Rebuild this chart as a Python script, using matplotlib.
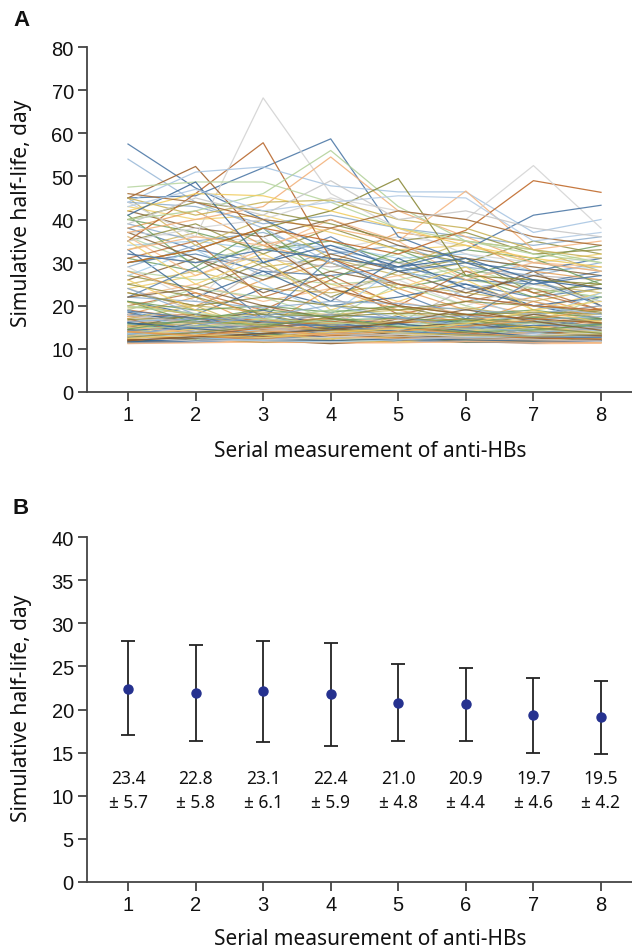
import matplotlib
matplotlib.use("Agg")
import matplotlib.pyplot as plt
import numpy as np

# ---------------- data ----------------
measurements = [1, 2, 3, 4, 5, 6, 7, 8]

# Panel A: individual simulative half-life trajectories (day)
high_subjects = [
    [57.5, 47.3, 40, 33, 28, 30, 25, 27],
    [54, 44, 38, 30, 25, 22, 20, 18],
    [45, 45.5, 52, 58.7, 36, 30, 28, 31],
    [35, 46, 57.8, 31, 25, 22, 20, 19],
    [44, 36, 68.2, 46, 38, 32, 30, 28],
    [45, 52.3, 35, 24, 20, 18, 17, 16],
    [44, 51, 52.2, 47.8, 46.4, 46.4, 37, 40],
    [37, 40, 43, 54.5, 42, 36, 30, 28],
    [40, 42, 46, 56, 43, 35, 33, 30],
    [30, 33, 38, 42, 49.5, 27, 26, 25],
    [33, 36, 34, 38, 35, 46.6, 33, 35],
    [30, 33, 38, 35, 32, 37.5, 49, 46.3],
    [35, 38, 40, 45, 42, 40, 52.5, 38],
    [32, 30, 33, 31, 29, 33, 41, 43.3],
    [47.5, 48.7, 48.7, 44, 38, 35, 32, 30],
    [42, 46, 45.5, 42, 38, 34, 31, 29],
    [41, 48.7, 30, 34, 29, 31, 26, 24],
    [45, 41, 44, 44.5, 40, 38, 33, 31],
    [46, 44, 40, 38, 42, 40, 36, 34],
    [43, 47, 42, 44, 45.5, 45, 35, 37],
    [39, 45, 41, 49, 40, 42, 38, 36],
]
high_colors = ['#4e79a7', '#9dbbd9', '#4e79a7', '#b8682e', '#d3d3d3', '#a0622d',
               '#a9c6e3', '#f2b27c', '#b4d29c', '#8b8a3a', '#f5b783', '#c06a2b',
               '#d5d5d5', '#4e79a7', '#b9d6a3', '#f1ce63', '#3f6b99', '#c9b35a',
               '#a8703a', '#b6cde6', '#c8c8c8']

mid_subjects = [
    [38, 33, 30, 36, 28, 25, 22, 24],
    [36, 30, 34, 28, 32, 26, 24, 22],
    [33, 37, 29, 31, 27, 30, 25, 23],
    [31, 28, 35, 30, 24, 27, 22, 26],
    [29, 34, 27, 33, 30, 24, 26, 21],
    [27, 24, 30, 22, 28, 31, 23, 25],
    [26, 31, 23, 28, 25, 22, 28, 20],
    [24, 27, 32, 25, 21, 26, 19, 23],
    [23, 20, 26, 30, 24, 19, 22, 18],
    [22, 25, 21, 24, 27, 21, 18, 20],
    [21, 18, 24, 20, 22, 25, 20, 17],
    [20, 23, 19, 26, 18, 21, 24, 19],
    [37, 36, 35, 33, 36, 34, 30, 31],
    [34, 35, 33, 34, 31, 32, 28, 29],
    [32, 30, 31, 29, 30, 28, 27, 26],
    [30, 32, 28, 27, 29, 26, 25, 28],
    [28, 26, 27, 25, 26, 29, 24, 22],
    [25, 28, 24, 23, 25, 23, 21, 24],
    [40, 37, 33, 35, 30, 33, 31, 34],
    [39, 35, 37, 32, 34, 29, 27, 30],
    [35, 39, 32, 38, 33, 30, 35, 32],
    [42, 38, 36, 40, 34, 31, 29, 27],
    [43, 40, 41, 37, 33, 34, 30, 32],
    [38, 42, 34, 30, 37, 35, 28, 26],
    [36, 27, 33, 40, 35, 26, 30, 29],
    [33, 22, 28, 21, 31, 24, 20, 22],
    [31, 35, 22, 27, 20, 28, 23, 19],
    [29, 21, 36, 24, 26, 20, 25, 21],
    [27, 33, 25, 18, 29, 22, 17, 23],
    [24, 19, 29, 22, 16, 24, 21, 18],
    [22, 29, 17, 31, 23, 17, 26, 20],
    [19, 24, 22, 17, 25, 20, 16, 22],
    [45, 34, 40, 31, 29, 35, 33, 28],
    [41, 29, 38, 26, 33, 27, 31, 25],
    [44, 43, 39, 41, 38, 36, 34, 36],
    [40, 44, 42, 39, 35, 37, 32, 33],
    [37, 31, 26, 32, 28, 23, 27, 24],
    [35, 25, 31, 19, 24, 29, 19, 21],
    [18, 22, 15, 24, 19, 16, 21, 17],
    [17, 15, 20, 16, 21, 18, 15, 19],
]

low_subjects = [
    [18, 17, 16, 18, 17, 16, 15, 17],
    [17.5, 18, 16.5, 17, 16, 17, 16, 15.5],
    [17, 16, 17.5, 15.5, 16.5, 15, 16, 16.5],
    [16.5, 17, 15, 16, 15.5, 16.5, 14.5, 16],
    [16, 15, 16, 17, 14.5, 15.5, 15, 14],
    [15.5, 16.5, 14.5, 15, 16, 14, 15.5, 15],
    [15, 14.5, 15.5, 14, 15, 15.5, 14, 14.5],
    [14.5, 15.5, 14, 15.5, 14, 14.5, 15, 13.5],
    [14, 13.5, 14.5, 13.5, 14.5, 13.5, 13, 14],
    [13.5, 14, 13, 14.5, 13.5, 14, 13.5, 13],
    [13, 13.5, 13.5, 13, 13, 12.5, 14, 13.5],
    [12.5, 13, 12.5, 12.5, 12.5, 13, 12.5, 12.5],
    [12, 12.5, 12, 12, 12, 12, 12, 12],
    [11.5, 12, 11.5, 11.5, 11.8, 11.5, 11.5, 11.5],
    [11.2, 11.5, 11.8, 11.3, 11.5, 11.8, 11.2, 11.3],
    [18.5, 16, 19, 15, 17.5, 14, 16.5, 15],
    [19, 17, 15, 14, 16, 18, 14, 17],
    [17, 19, 14, 16, 13, 15, 17, 14],
    [16, 13, 17, 12, 15, 13, 12, 16],
    [15, 17, 13, 16, 12, 16, 13, 12],
    [14, 16, 12, 14, 16, 12, 15, 13],
    [13, 12, 15, 13, 14, 15, 12, 15],
    [12, 14, 13, 15, 13, 14, 16, 14],
    [11.5, 13, 14, 12, 12.5, 13, 14, 12],
    [12.5, 11.5, 12.5, 14, 11.5, 12, 13, 11.5],
    [13.5, 12.5, 11.5, 12.5, 13, 11.5, 11.8, 12.5],
    [14.5, 13, 12, 11.2, 12, 12.5, 12, 13],
    [15.5, 14, 13, 12, 11.5, 13, 12.5, 11.5],
    [16.5, 15, 14, 13, 12.5, 12, 11.5, 12],
    [17.5, 16, 15, 14, 13, 12.5, 12, 11.5],
    [11.8, 12.2, 13, 14, 15, 15.5, 16, 17],
    [12.2, 13, 14.5, 15, 16, 17, 18, 19],
    [13.2, 12.8, 12.2, 13.5, 14.5, 16, 17.5, 18],
    [14.2, 13.5, 12.8, 12.5, 13.8, 14.8, 16.2, 16.8],
    [12.8, 12.2, 11.8, 12.2, 12.8, 13.2, 13.8, 14.2],
    [11.4, 11.6, 12.4, 12.8, 12.2, 11.6, 11.4, 11.8],
    [20, 18, 17, 19, 18, 17, 18, 19],
    [19.5, 20, 18.5, 18, 19, 19.5, 17.5, 18],
    [21, 19, 20, 18.5, 20, 18, 19, 17],
    [22, 21, 19.5, 21, 20.5, 19, 18, 20],
    [23, 20, 22, 20, 19, 21, 20, 18.5],
    [15, 18, 16, 14, 17, 15, 18, 16],
    [14, 15, 17, 15, 14, 16, 17, 15],
    [13, 14, 16, 17, 15, 14, 15, 16],
    [12, 15, 14, 16, 17, 15, 14, 13],
    [16, 14, 13, 13, 14, 17, 16, 14],
    [17, 13, 12, 15, 15, 14, 13, 15],
    [18, 15, 14, 12, 13, 13, 16, 14],
    [19, 14, 15, 13, 12, 15, 14, 12.5],
    [11.6, 14, 16, 18, 14, 12, 15, 13],
    [13, 16, 18, 14, 12, 14, 17, 15],
    [15, 12, 17, 19, 13, 16, 12, 14],
    [17, 20, 14, 12, 18, 13, 15, 13],
    [21, 16, 13, 15, 12, 17, 14, 16],
    [24, 18, 12, 14, 13, 12, 13, 12],
    [25, 22, 18, 15, 14, 13, 12, 12],
    [22, 24, 20, 17, 15, 16, 14, 13],
    [26, 19, 15, 13, 14, 12, 13, 14],
    [28, 23, 17, 14, 13, 15, 12, 13],
    [11.3, 11.4, 11.6, 11.5, 11.4, 11.7, 11.5, 11.4],
    [11.7, 11.9, 12.2, 11.9, 12.3, 12.1, 11.8, 12],
    [12.3, 12.7, 12.9, 13.1, 12.6, 12.4, 12.8, 13.2],
    [12.9, 13.3, 13.7, 13.4, 13.8, 13.5, 13.2, 13.6],
    [13.4, 13.9, 14.3, 14.1, 13.6, 14.2, 14.6, 14.1],
    [13.8, 14.4, 14.8, 14.5, 14.9, 14.6, 14.3, 15.1],
    [14.3, 14.9, 15.3, 15.6, 15.2, 14.8, 15.4, 15.7],
    [14.8, 15.2, 15.8, 16.2, 15.6, 16.1, 15.9, 15.4],
    [15.3, 15.9, 16.4, 15.8, 16.3, 16.8, 16.2, 16.6],
    [15.8, 16.3, 15.6, 16.7, 17.1, 16.4, 17.3, 16.9],
    [16.3, 16.9, 17.4, 17.8, 17.2, 17.6, 16.8, 17.5],
    [16.8, 17.4, 18.1, 17.5, 18.3, 17.9, 18.5, 18.2],
    [12.1, 12.4, 13.6, 14.8, 13.2, 12.6, 12.3, 12.9],
    [13.1, 14.6, 13.2, 12.4, 12.8, 14.1, 15.2, 13.8],
    [14.1, 12.9, 12.3, 13.7, 14.9, 13.4, 12.7, 12.4],
    [15.1, 13.8, 14.7, 12.9, 12.3, 12.8, 13.9, 14.6],
    [16.1, 14.7, 13.4, 14.6, 15.8, 14.2, 12.9, 13.3],
    [11.9, 13.1, 14.9, 16.4, 15.1, 13.7, 12.6, 12.2],
    [12.6, 11.8, 12.1, 12.7, 13.4, 12.9, 12.2, 11.7],
    [13.6, 12.6, 11.9, 11.6, 12.1, 12.6, 13.1, 12.7],
    [17.8, 16.2, 14.8, 13.6, 12.9, 12.4, 12.1, 11.9],
    [18.8, 17.1, 16.3, 15.2, 14.1, 13.3, 12.8, 12.6],
    [19.8, 18.2, 16.9, 16.1, 15.3, 14.6, 14.2, 13.8],
    [20.8, 17.6, 15.4, 14.3, 13.7, 13.2, 12.9, 13.4],
    [14.6, 16.8, 19.2, 17.3, 15.1, 13.9, 14.4, 15.6],
    [13.3, 15.4, 17.6, 20.1, 17.2, 15.3, 13.8, 14.7],
    [12.7, 13.8, 15.1, 17.4, 19.8, 16.7, 14.9, 13.6],
    [11.9, 12.8, 13.5, 14.4, 16.2, 19.1, 16.4, 14.3],
    [12.4, 13.2, 12.6, 13.9, 14.7, 15.8, 18.9, 16.2],
    [13.9, 13.1, 14.2, 13.3, 14.1, 15.2, 16.7, 19.4],
]

# Panel B: mean with error bars (as plotted) and printed labels
mean_vals = [22.4, 21.9, 22.1, 21.8, 20.8, 20.6, 19.4, 19.1]
upper_vals = [27.9, 27.5, 28.0, 27.7, 25.3, 24.8, 23.7, 23.3]
lower_vals = [17.0, 16.3, 16.2, 15.8, 16.3, 16.3, 15.0, 14.8]
label_means = ["23.4", "22.8", "23.1", "22.4", "21.0", "20.9", "19.7", "19.5"]
label_sds = ["5.7", "5.8", "6.1", "5.9", "4.8", "4.4", "4.6", "4.2"]

palette = ['#4e79a7', '#a0cbe8', '#b8682e', '#f5b783', '#f1ce63', '#8b8a3a',
           '#6a9a58', '#b4d29c', '#bab0ac', '#d5d5d5', '#2f5f8f', '#e39a4f',
           '#7f5a2e', '#86a8c9', '#c9b35a']

# ---------------- figure ----------------
W, H = 632, 953
fig = plt.figure(figsize=(W / 100, H / 100), dpi=100)

tick_font = 'Liberation Sans'
lab_font = 'Noto Sans'
spine_col = '#444444'

def px_axes(left, right, top, bottom):
    return [left / W, 1 - bottom / H, (right - left) / W, (bottom - top) / H]

x_left = 1 - 41 / 67.57
x_right = 8 + 31 / 67.57

def style(ax, ymax, step):
    ax.set_xlim(x_left, x_right)
    ax.set_ylim(0, ymax)
    ax.set_xticks(measurements)
    ax.set_yticks(np.arange(0, ymax + 0.1, step))
    for s in ['top', 'right']:
        ax.spines[s].set_visible(False)
    for s in ['left', 'bottom']:
        ax.spines[s].set_color(spine_col)
        ax.spines[s].set_linewidth(1.3)
    ax.tick_params(direction='out', length=6.5, width=1.3, color=spine_col,
                   labelsize=14.5, pad=3)
    for lbl in ax.get_xticklabels() + ax.get_yticklabels():
        lbl.set_fontfamily(tick_font)
        lbl.set_color('#111111')

# Panel A
axA = fig.add_axes(px_axes(87, 632, 48, 393))
rest = mid_subjects + low_subjects
for i, vals in enumerate(rest):
    axA.plot(measurements, vals, color=palette[(i * 7) % len(palette)],
             lw=0.9, alpha=0.8)
for vals, c in zip(high_subjects, high_colors):
    axA.plot(measurements, vals, color=c, lw=0.9, alpha=0.9)
style(axA, 80, 10)

# Panel B
axB = fig.add_axes(px_axes(87, 632, 538, 883))
yerr = [np.array(mean_vals) - np.array(lower_vals),
        np.array(upper_vals) - np.array(mean_vals)]
axB.errorbar(measurements, mean_vals, yerr=yerr, fmt='o', color='#25318f',
             ms=6.5, ecolor='#222222', elinewidth=1.3, capsize=5, capthick=1.3)
style(axB, 40, 5)
for x, m, s in zip(measurements, label_means, label_sds):
    axB.text(x, 12.1, m, ha='center', va='center', fontsize=12.5, family=lab_font,
             color='#111111')
    axB.text(x, 9.3, "\u00b1 " + s, ha='center', va='center', fontsize=12.5,
             family=lab_font, color='#111111')

# Labels
for ylab_y, xlab_y, letter, ly in [(213, 452, 'A', 20), (708, 940, 'B', 509)]:
    fig.text(22 / W, 1 - ylab_y / H, 'Simulative half-life, day', rotation=90,
             ha='center', va='center', fontsize=15, family=lab_font, color='#111111')
    fig.text(370 / W, 1 - xlab_y / H, 'Serial measurement of anti-HBs',
             ha='center', va='center', fontsize=15, family=lab_font, color='#111111')
    fig.text(13 / W, 1 - ly / H, letter, ha='left', va='center', fontsize=16,
             fontweight='bold', family=tick_font, color='#111111')

fig.savefig('out.png', dpi=100)
